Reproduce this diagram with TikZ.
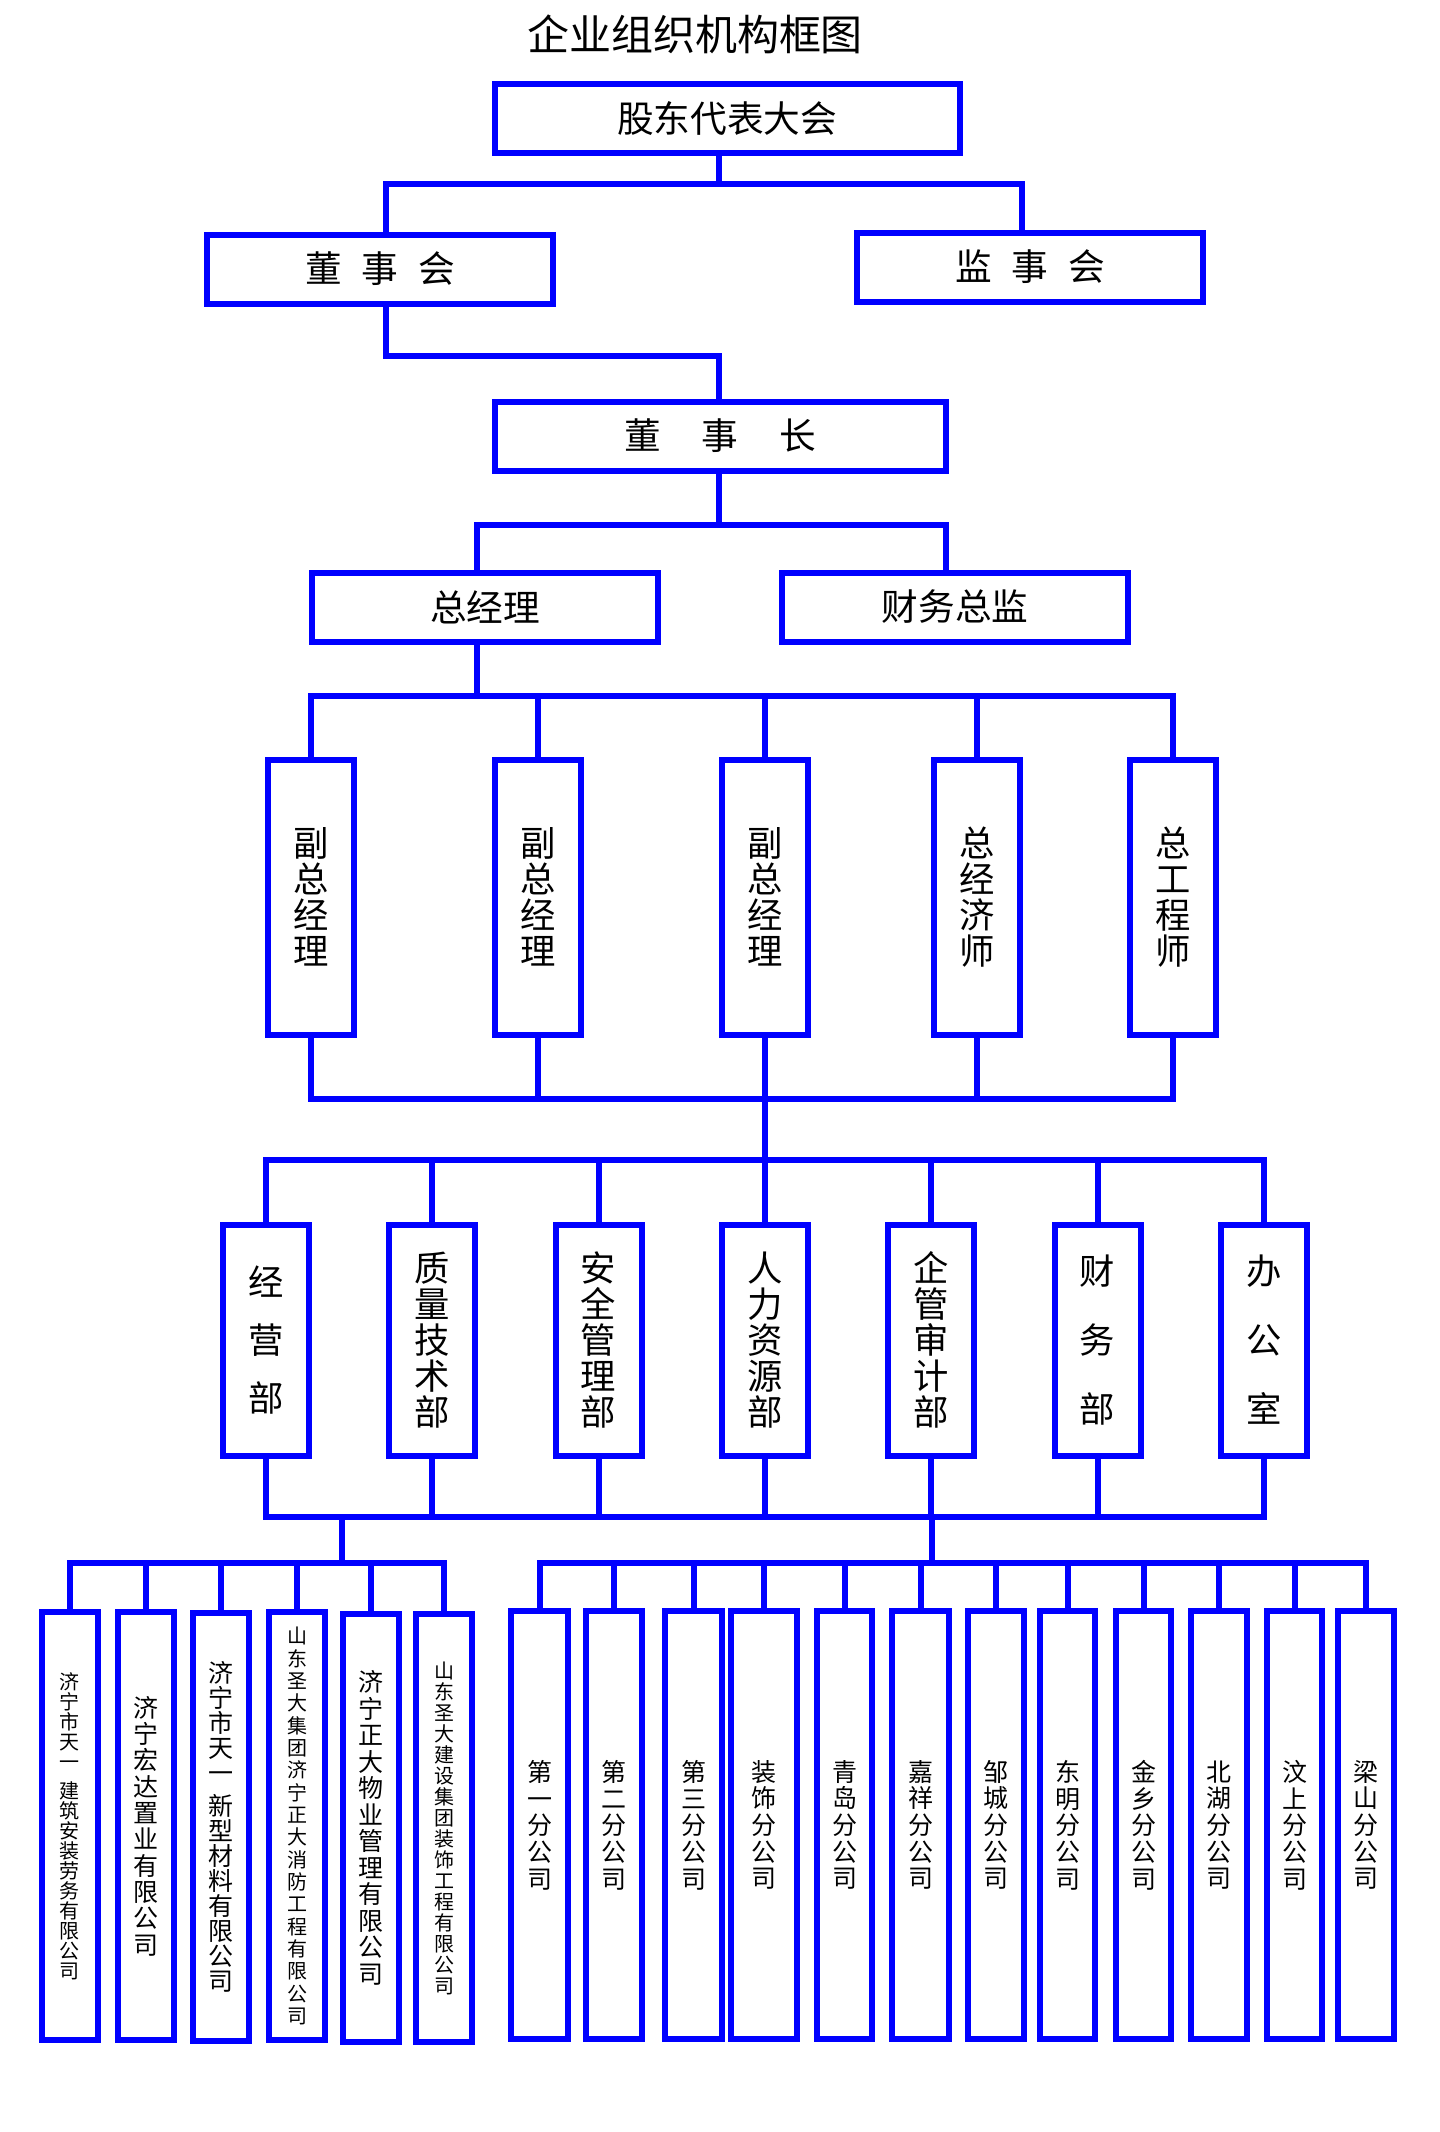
\documentclass[tikz,border=0pt]{standalone}
\usepackage{fontspec}
\setmainfont{Noto Sans CJK SC}
\definecolor{lanse}{RGB}{0,0,255}

% 竖排文字
\ExplSyntaxOn
\seq_new:N \l_shu_seq
\NewDocumentCommand \shu { m }
  {
    \seq_clear:N \l_shu_seq
    \exp_args:No \tl_map_inline:nn { #1 } { \seq_put_right:Nn \l_shu_seq { ##1 } }
    \seq_use:Nn \l_shu_seq { \\ }
  }
\ExplSyntaxOff

\tikzset{
  kuang/.style={draw=lanse, line width=1.8pt, inner sep=0pt, align=center},
  hkuang/.style={kuang, minimum width=103.8pt, minimum height=20.7pt, font=\fontsize{11}{13}\selectfont},
  skuang/.style={kuang, minimum width=25.8pt, minimum height=82.5pt, font=\fontsize{10.6}{10.8}\selectfont},
  gkuang/.style={kuang, minimum width=16.8pt, minimum height=128.4pt},
  lianxian/.style={draw=lanse, line width=1.8pt, line cap=rect},
}

\begin{document}
\begin{tikzpicture}[x=0.3pt, y=-0.3pt]
\useasboundingbox (0,0) rectangle (1440,2132);

\node[font=\fontsize{12.6}{15}\selectfont] (biaoti) at (695,34) {企业组织机构框图};

% 上层
\node[hkuang, minimum width=139.5pt] (gudong) at (727,118) {股东代表大会};
\node[hkuang] (dongshihui) at (380,269) {董\hspace{6pt}事\hspace{6pt}会};
\node[hkuang] (jianshihui) at (1030,267) {监\hspace{6pt}事\hspace{6pt}会};
\node[hkuang, minimum width=135.3pt] (dongshizhang) at (720,436) {董\hspace{12.3pt}事\hspace{12.3pt}长};
\node[hkuang] (zongjingli) at (485,607) {总经理};
\node[hkuang] (caiwu) at (955,607) {财务总监};

\coordinate (j1) at (719,184);
\draw[lianxian] (gudong.south -| j1) -- (j1);
\draw[lianxian] ([xshift=1.8pt]dongshihui.north) |- (j1) -| ([xshift=-2.4pt]jianshihui.north);

\coordinate (j2) at (719,356);
\draw[lianxian] ([xshift=1.8pt]dongshihui.south) |- (j2) -- (dongshizhang.north -| j2);

\coordinate (j3) at (719,525);
\draw[lianxian] (dongshizhang.south -| j3) -- (j3);
\draw[lianxian] ([xshift=-2.4pt]zongjingli.north) |- (j3) -| ([xshift=-2.7pt]caiwu.north);

% 副总经理等
\foreach \x/\name/\txt in {311/fu1/副总经理, 538/fu2/副总经理, 765/fu3/副总经理, 977/jingjishi/总经济师, 1173/gongchengshi/总工程师}
	\node[skuang] (\name) at (\x,897) {\shu{\txt}};

\coordinate (j4) at (477,696);
\draw[lianxian] (zongjingli.south -| j4) -- (j4);
\draw[lianxian] (fu1.north) |- (j4) -| (gongchengshi.north);
\foreach \name in {fu2,fu3,jingjishi}
	\draw[lianxian] (\name.north) -- (\name.north |- j4);

% 职能部门
\foreach \name/\txt/\hang [count=\i from 0] in {jingying/经营部/17.4, zhiliang/质量技术部/10.8, anquan/安全管理部/10.8, renli/人力资源部/10.8, qiguan/企管审计部/10.8, caiwubu/财务部/20.7, bangong/办公室/20.7}
	\node[skuang, minimum height=69.3pt, font=\fontsize{10.6}{\hang}\selectfont] (\name) at (266+166.3*\i,1340) {\shu{\txt}};

\coordinate (j5) at (765,1099);
\coordinate (j6) at (765,1160);
\draw[lianxian] (fu1.south) |- (j5) -| (gongchengshi.south);
\foreach \name in {fu2,fu3,jingjishi}
	\draw[lianxian] (\name.south) -- (\name.south |- j5);
\draw[lianxian] (j5) -- (j6);
\draw[lianxian] (jingying.north) |- (j6) -| (bangong.north);
\foreach \name in {zhiliang,anquan,renli,qiguan,caiwubu}
	\draw[lianxian] (\name.north) -- (\name.north |- j6);

\coordinate (j7) at (342,1517);
\coordinate (j8) at (932,1517);
\draw[lianxian] (jingying.south) |- (j7) -- (j8) -| (bangong.south);
\foreach \name in {zhiliang,anquan,renli,qiguan,caiwubu}
	\draw[lianxian] (\name.south) -- (\name.south |- j7);

\coordinate (j9) at (342,1563);
\coordinate (j10) at (932,1563);
\draw[lianxian] (j7) -- (j9);
\draw[lianxian] (j8) -- (j10);

% 下属公司
\node[gkuang, font=\fontsize{6}{6}\selectfont] (gs1) at (69.5,1826) {\shu{济宁市天一}\\[2.7pt]\shu{建筑安装劳务有限公司}};
\node[gkuang, font=\fontsize{7.5}{7.9}\selectfont] (gs2) at (145.5,1826) {\shu{济宁宏达置业有限公司}};
\node[gkuang, font=\fontsize{7.5}{7.5}\selectfont] (gs3) at (221,1827) {\shu{济宁市天一}\\[2.4pt]\shu{新型材料有限公司}};
\node[gkuang, font=\fontsize{6}{6.7}\selectfont] (gs4) at (297,1826) {\shu{山东圣大集团济宁正大消防工程有限公司}};
\node[gkuang, font=\fontsize{7.5}{7.95}\selectfont] (gs5) at (371,1828) {\shu{济宁正大物业管理有限公司}};
\node[gkuang, font=\fontsize{6}{6.3}\selectfont] (gs6) at (444,1828) {\shu{山东圣大建设集团装饰工程有限公司}};

\draw[lianxian] (gs1.north) |- (j9) -| (gs6.north);
\foreach \name in {gs2,gs3,gs4,gs5}
	\draw[lianxian] (\name.north) -- (\name.north |- j9);

% 分公司
\foreach \x/\w/\txt [count=\i] in {539.5/57/第一分公司, 614/56/第二分公司, 693.5/57/第三分公司, 764/66/装饰分公司, 844.5/55/青岛分公司, 920.5/57/嘉祥分公司, 996/56/邹城分公司, 1067.5/55/东明分公司, 1143.5/55/金乡分公司, 1219/56/北湖分公司, 1294.5/55/汶上分公司, 1366/56/梁山分公司}
	\node[gkuang, minimum width=\w*0.3pt, font=\fontsize{7.5}{8}\selectfont] (fgs\i) at (\x,1825) {\shu{\txt}};

\draw[lianxian] (fgs1.north) |- (j10) -| (fgs12.north);
\foreach \i in {2,...,11}
	\draw[lianxian] (fgs\i.north) -- (fgs\i.north |- j10);

\end{tikzpicture}
\end{document}
